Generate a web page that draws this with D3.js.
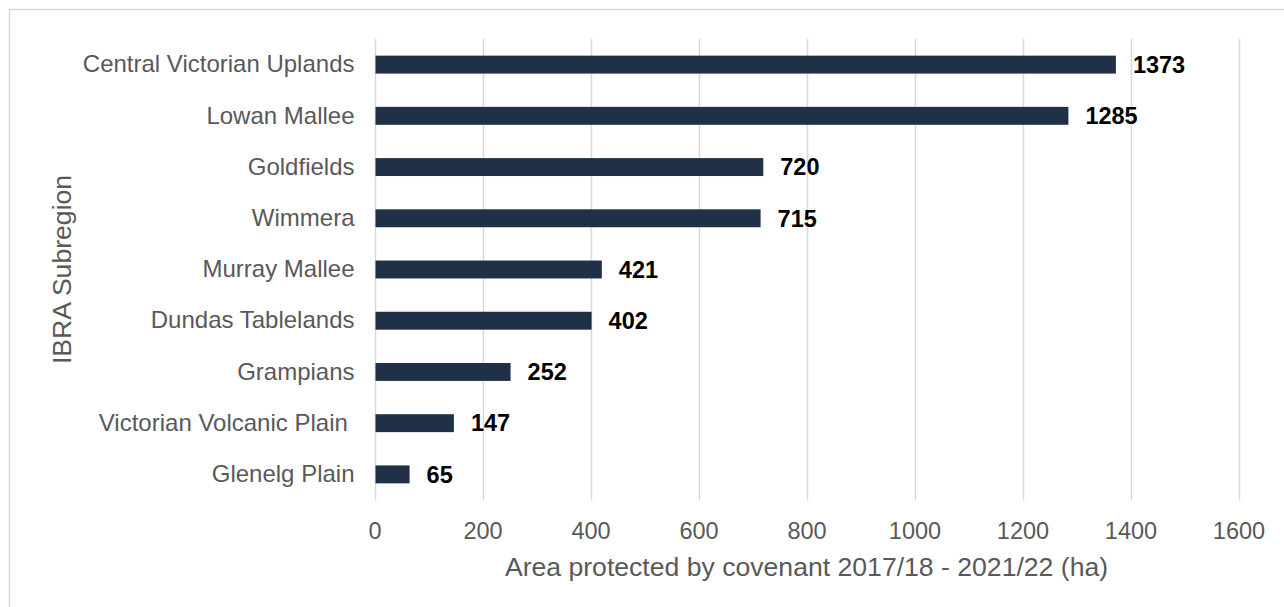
<!DOCTYPE html>
<html>
<head>
<meta charset="utf-8">
<script src="https://cdn.jsdelivr.net/npm/d3@7"></script>
<style>
  body { margin: 0; background: #fff; }
  text { font-family: "Liberation Sans", Arial, sans-serif; white-space: pre; }
</style>
</head>
<body>
<div id="chart"></div>
<script>
const categories = [
  "Central Victorian Uplands",
  "Lowan Mallee",
  "Goldfields",
  "Wimmera",
  "Murray Mallee",
  "Dundas Tablelands",
  "Grampians",
  "Victorian Volcanic Plain ",
  "Glenelg Plain",
];
const values = [1373, 1285, 720, 715, 421, 402, 252, 147, 65];
const xTicks = [0, 200, 400, 600, 800, 1000, 1200, 1400, 1600];

const data = categories.map((c, i) => ({ category: c, value: values[i] }));

const W = 1284, H = 607;
const plot = { left: 374.5, right: 1238.5, top: 39, bottom: 500 };

const svg = d3
  .select("#chart")
  .append("svg")
  .attr("width", W)
  .attr("height", H);

// outer frame
svg
  .append("rect")
  .attr("x", 9.5)
  .attr("y", 9.5)
  .attr("width", 1400)
  .attr("height", 800)
  .attr("fill", "none")
  .attr("stroke", "#d9d9d9")
  .attr("stroke-width", 1.5);

const x = d3.scaleLinear().domain([0, 1600]).range([plot.left, plot.right]);

const y = d3
  .scaleBand()
  .domain(categories)
  .range([plot.top, plot.bottom])
  .paddingInner(0.65)
  .paddingOuter(0.325);

// gridlines
svg
  .append("g")
  .selectAll("line")
  .data(xTicks)
  .join("line")
  .attr("x1", (d) => Math.round(x(d)) + 0.5)
  .attr("x2", (d) => Math.round(x(d)) + 0.5)
  .attr("y1", plot.top)
  .attr("y2", plot.bottom)
  .attr("stroke", "#d9d9d9")
  .attr("stroke-width", 1.5);

// x axis labels
const xAxis = svg
  .append("g")
  .attr("transform", `translate(0,${plot.bottom + 22})`)
  .call(
    d3.axisBottom(x).tickValues(xTicks).tickSize(0).tickPadding(0).tickFormat(d3.format("d"))
  );
xAxis.select(".domain").remove();
xAxis
  .selectAll("text")
  .attr("fill", "#595959")
  .style("font-size", "23.5px")
  .attr("dy", "0.71em");

// y axis labels
const yAxis = svg
  .append("g")
  .attr("transform", `translate(${plot.left - 20},0)`)
  .call(d3.axisLeft(y).tickSize(0).tickPadding(0));
yAxis.select(".domain").remove();
yAxis
  .selectAll("text")
  .attr("fill", "#595959")
  .style("font-size", "24px");

// bars
svg
  .selectAll(".bar")
  .data(data)
  .join("rect")
  .attr("class", "bar")
  .attr("x", x(0) + 1)
  .attr("y", (d) => y(d.category))
  .attr("width", (d) => x(d.value) - x(0) - 1)
  .attr("height", y.bandwidth())
  .attr("fill", "#203147");

// value labels
svg
  .selectAll(".value")
  .data(data)
  .join("text")
  .attr("class", "value")
  .attr("x", (d) => x(d.value) + 17)
  .attr("y", (d) => y(d.category) + y.bandwidth() / 2)
  .attr("dy", "0.35em")
  .style("font-size", "23.5px")
  .style("font-weight", "bold")
  .attr("fill", "#000")
  .text((d) => d.value);

// axis titles
svg
  .append("text")
  .attr("x", (plot.left + plot.right) / 2)
  .attr("y", 576)
  .attr("text-anchor", "middle")
  .style("font-size", "26.6px")
  .attr("fill", "#595959")
  .text("Area protected by covenant 2017/18 - 2021/22 (ha)");

svg
  .append("text")
  .attr("transform", "rotate(-90)")
  .attr("x", -(plot.top + plot.bottom) / 2)
  .attr("y", 71)
  .attr("text-anchor", "middle")
  .style("font-size", "26.6px")
  .attr("fill", "#595959")
  .text("IBRA Subregion");
</script>
</body>
</html>
